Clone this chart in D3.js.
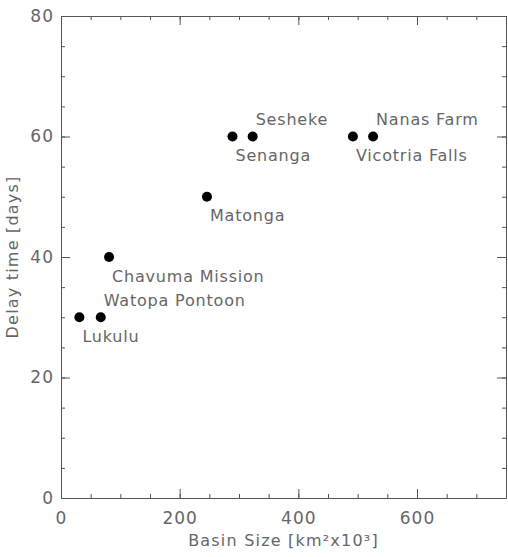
<!DOCTYPE html>
<html>
<head>
<meta charset="utf-8">
<script src="https://cdn.jsdelivr.net/npm/d3@7"></script>
<style>
  body { margin: 0; background: #fff; }
  svg text { font-family: "DejaVu Sans", sans-serif; font-weight: normal; fill: #666; }
</style>
</head>
<body>
<script>
// stations and their values
var stations = ["Lukulu", "Watopa Pontoon", "Chavuma Mission", "Matonga", "Senanga", "Sesheke", "Vicotria Falls", "Nanas Farm"];
var basinSize = [31, 67, 81, 246, 289, 323, 492, 526];
var delayTime = [30, 30, 40, 50, 60, 60, 60, 60];
var labelSide = ["below", "above", "below", "below", "below", "above", "below", "above"];

var xTicks = [0, 200, 400, 600];
var yTicks = [0, 20, 40, 60, 80];

var margin = {top: 16, right: 2, bottom: 59, left: 61},
    width = 508 - margin.left - margin.right,
    height = 557 - margin.top - margin.bottom;

var svg = d3.select("body")
            .append("svg")
            .attr("width", 508)
            .attr("height", 557)
            .append("g")
            .attr("transform", "translate(" + margin.left + "," + margin.top + ")");

var xScale = d3.scaleLinear().domain([0, 750]).range([0, width]);
var yScale = d3.scaleLinear().domain([0, 80]).range([height, 0]);

// minor ticks every 50 / 5, majors with labels
var xMinor = d3.range(0, 751, 50);
var yMinor = d3.range(0, 81, 5);

function styleAxis(g) {
  g.selectAll("path, line").attr("stroke", "#555").attr("stroke-width", 1);
  g.selectAll("text").attr("fill", null).style("font-size", "17px").style("letter-spacing", "1px");
}

// bottom
svg.append("g").attr("transform", "translate(0," + height + ")")
   .call(d3.axisBottom(xScale).tickValues(xMinor).tickSize(-4).tickSizeOuter(0).tickFormat(""))
   .call(styleAxis);
svg.append("g").attr("transform", "translate(0," + height + ")")
   .call(d3.axisBottom(xScale).tickValues(xTicks).tickSize(-9).tickSizeOuter(0).tickPadding(14).tickFormat(d3.format("d")))
   .call(styleAxis)
   .call(function(g) { g.select(".domain").remove(); });
// top
svg.append("g")
   .call(d3.axisTop(xScale).tickValues(xMinor).tickSize(-4).tickSizeOuter(0).tickFormat(""))
   .call(styleAxis);
svg.append("g")
   .call(d3.axisTop(xScale).tickValues(xTicks).tickSize(-9).tickSizeOuter(0).tickFormat(""))
   .call(styleAxis)
   .call(function(g) { g.select(".domain").remove(); });
// left
svg.append("g")
   .call(d3.axisLeft(yScale).tickValues(yMinor).tickSize(-4).tickSizeOuter(0).tickFormat(""))
   .call(styleAxis);
svg.append("g")
   .call(d3.axisLeft(yScale).tickValues(yTicks).tickSize(-9).tickSizeOuter(0).tickPadding(7).tickFormat(d3.format("d")))
   .call(styleAxis)
   .call(function(g) { g.select(".domain").remove(); });
// right
svg.append("g").attr("transform", "translate(" + width + ",0)")
   .call(d3.axisRight(yScale).tickValues(yMinor).tickSize(-4).tickSizeOuter(0).tickFormat(""))
   .call(styleAxis);
svg.append("g").attr("transform", "translate(" + width + ",0)")
   .call(d3.axisRight(yScale).tickValues(yTicks).tickSize(-9).tickSizeOuter(0).tickFormat(""))
   .call(styleAxis)
   .call(function(g) { g.select(".domain").remove(); });

var data = stations.map(function(s, i) {
  return {name: s, x: basinSize[i], y: delayTime[i], side: labelSide[i]};
});

svg.selectAll("circle.pt")
   .data(data)
   .enter()
   .append("circle")
   .attr("class", "pt")
   .attr("cx", function(d) { return xScale(d.x); })
   .attr("cy", function(d) { return yScale(d.y); })
   .attr("r", 5)
   .attr("fill", "#000");

svg.selectAll("text.lbl")
   .data(data)
   .enter()
   .append("text")
   .attr("class", "lbl")
   .attr("x", function(d) { return xScale(d.x) + 3; })
   .attr("y", function(d) { return yScale(d.y) + (d.side == "below" ? 19 : -17); })
   .attr("dy", "0.35em")
   .style("font-size", "16px")
   .style("letter-spacing", "0.8px")
   .text(function(d) { return d.name; });

// axis titles
svg.append("text")
   .attr("x", width / 2)
   .attr("y", height + 48)
   .style("font-size", "16px")
   .style("letter-spacing", "1.2px")
   .style("text-anchor", "middle")
   .text("Basin Size [km²x10³]");

svg.append("text")
   .attr("transform", "rotate(-90)")
   .attr("x", -height / 2)
   .attr("y", -43)
   .style("font-size", "16px")
   .style("letter-spacing", "1.2px")
   .style("text-anchor", "middle")
   .text("Delay time [days]");
</script>
</body>
</html>
